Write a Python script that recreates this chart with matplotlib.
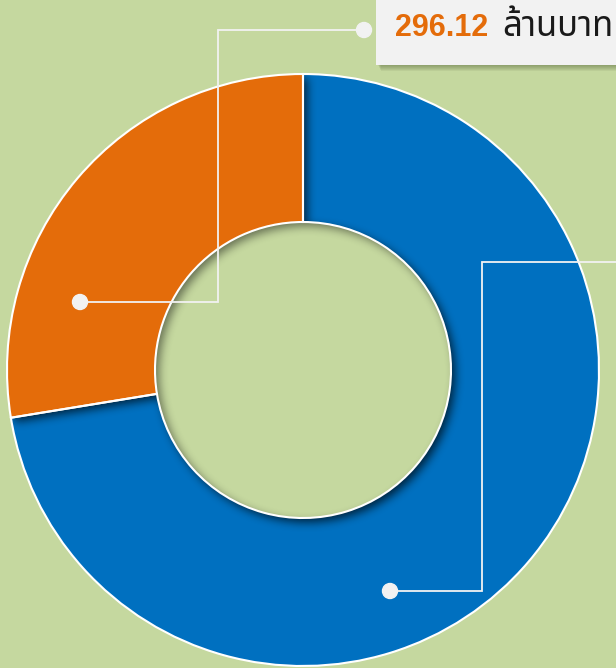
import numpy as np
import matplotlib
matplotlib.use('Agg')
import matplotlib.pyplot as plt
from matplotlib import font_manager
from matplotlib.patches import Rectangle, Circle

# ---------------------------------------------------------------------------
# data
# ---------------------------------------------------------------------------
segments = ['blue', 'orange']
values = [777.6, 296.12]          # million baht (blue)
colors = ['#0070C0', '#E46C0A']
label_value = '296.12'
label_unit = 'ล้านบาท'

BG = '#C5D89F'
W, H = 616, 668
CX, CY = 303, 298                 # centre (y up)
R_OUT, R_IN = 296, 148

# thai capable font, first one that is installed
installed = {f.name for f in font_manager.fontManager.ttflist}
thai_pref = ['Noto Sans Thai', 'Noto Sans Thai Looped', 'Tahoma', 'Loma',
             'Garuda', 'IBM Plex Sans Thai Looped', 'IBM Plex Sans Thai',
             'Sarabun', 'Anuphan']
thai_font = next((f for f in thai_pref if f in installed), 'DejaVu Sans')

fig = plt.figure(figsize=(W / 100, H / 100), dpi=100)
fig.patch.set_facecolor(BG)
ax = fig.add_axes([0, 0, 1, 1])
ax.set_facecolor(BG)

ax.pie(values, colors=colors, startangle=90, counterclock=False,
       radius=R_OUT, center=(CX, CY), frame=True,
       wedgeprops=dict(width=R_OUT - R_IN, edgecolor='none', linewidth=0))

# ---------------------------------------------------------------------------
# soft shadows (offset down-right, blurred)
# ---------------------------------------------------------------------------
jj, ii = np.meshgrid(np.arange(W) + 0.5, np.arange(H) + 0.5)
X = jj
Y = H - ii
rr = np.hypot(X - CX, Y - CY)
theta = np.degrees(np.arctan2(Y - CY, X - CX)) % 360
span_orange = values[1] / sum(values) * 360
ring = (rr <= R_OUT) & (rr >= R_IN)
hole = rr < R_IN
orange = ring & (theta >= 90) & (theta < 90 + span_orange)
blue = ring & ~orange


def blur(a, k, passes=3):
    out = a.astype(float)
    for _ in range(passes):
        for axis in (0, 1):
            pad = [(k, k) if i == axis else (0, 0) for i in range(2)]
            c = np.cumsum(np.pad(out, pad, mode='edge'), axis=axis)
            c = np.insert(c, 0, 0, axis=axis)
            n = out.shape[axis]
            hi = [slice(None)] * 2
            lo = [slice(None)] * 2
            hi[axis] = slice(2 * k + 1, 2 * k + 1 + n)
            lo[axis] = slice(0, n)
            out = (c[tuple(hi)] - c[tuple(lo)]) / (2 * k + 1)
    return out


def shift(a, dx, dy):
    out = np.zeros_like(a)
    out[dy:, dx:] = a[:H - dy, :W - dx]
    return out


d = 4
sh = (blur(shift(orange, d, d), 4) * blue
      + 0.7 * blur(shift(ring, d, d), 4) * hole
      + blur(shift(hole, d, d), 4) * blue)
rgba = np.zeros((H, W, 4))
rgba[..., 3] = np.clip(sh, 0, 1) * 0.7
ax.imshow(rgba, extent=(0, W, 0, H), origin='upper', zorder=2,
          interpolation='bilinear')

# white edges on top
ax.pie(values, colors=['none', 'none'], startangle=90, counterclock=False,
       radius=R_OUT, center=(CX, CY), frame=True,
       wedgeprops=dict(width=R_OUT - R_IN, edgecolor='white', linewidth=1.5,
                       zorder=3))

# ---------------------------------------------------------------------------
# leader lines
# ---------------------------------------------------------------------------
LINE = '#F2F2F2'
ax.plot([80, 218, 218, 364], [H - 302, H - 302, H - 30, H - 30],
        color=LINE, lw=1.3, zorder=4, solid_joinstyle='miter')
ax.plot([390, 482, 482, 640], [H - 591, H - 591, H - 262, H - 262],
        color=LINE, lw=1.3, zorder=4, solid_joinstyle='miter')
for px, py in [(80, 302), (364, 30), (390, 591)]:
    ax.add_patch(Circle((px, H - py), 7.5, color=LINE, zorder=5))

# label box with a soft shadow
for k in range(6):
    ax.add_patch(Rectangle((378 + k * 0.6, H - 66 - k), 300, 80,
                           color='#3a4a20', alpha=0.07, zorder=5, lw=0))
ax.add_patch(Rectangle((376, H - 65), 300, 80, color='#F2F2F2', zorder=6, lw=0))
ax.text(395, H - 36, label_value, color='#E46C0A', fontsize=22,
        fontweight='bold', va='baseline', ha='left', zorder=7,
        family=['Liberation Sans', 'DejaVu Sans'])
ax.text(502, H - 36, label_unit, color='#1a1a1a', fontsize=25,
        va='baseline', ha='left', zorder=7,
        family=[thai_font, 'DejaVu Sans'])

ax.set_xlim(0, W)
ax.set_ylim(0, H)
ax.set_aspect('equal')
ax.axis('off')

fig.savefig('out.png', dpi=100, facecolor=BG)
